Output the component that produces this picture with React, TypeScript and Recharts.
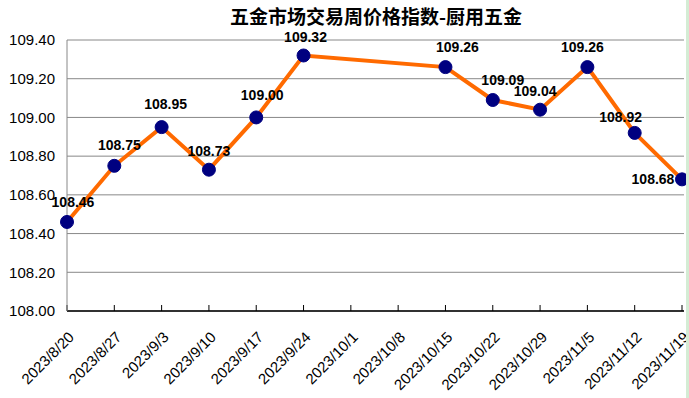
import React from "react";
import { LineChart, Line, XAxis, YAxis, CartesianGrid, LabelList } from "recharts";

const categories = [
  "2023/8/20", "2023/8/27", "2023/9/3", "2023/9/10", "2023/9/17", "2023/9/24", "2023/10/1",
  "2023/10/8", "2023/10/15", "2023/10/22", "2023/10/29", "2023/11/5", "2023/11/12", "2023/11/19",
];
const values: (number | null)[] = [
  108.46, 108.75, 108.95, 108.73, 109.0, 109.32, null,
  null, 109.26, 109.09, 109.04, 109.26, 108.92, 108.68,
];
const yTicks = [108.0, 108.2, 108.4, 108.6, 108.8, 109.0, 109.2, 109.4];
const title = "五金市场交易周价格指数-厨用五金";

const data = categories.map((c, i) => ({ name: c, value: values[i] }));

const labelShift: [number, number][] = [
  [6, -19], [5, -20], [4, -22], [0, -17], [6, -21], [2, -17], [0, 0],
  [0, 0], [12, -19], [10, -19], [-5, -17], [-5, -19], [-14, -15], [-29, 1],
];

const FONT = "'Liberation Sans', Arial, sans-serif";

const XTick = (props: any) => {
  const { x, y, payload } = props;
  const ax = x + 8;
  const ay = y + 31;
  return (
    <text
      x={ax}
      y={ay}
      textAnchor="end"
      fontSize={15}
      fontFamily={FONT}
      fill="#000"
      transform={`rotate(-45, ${ax}, ${ay})`}
    >
      {payload.value}
    </text>
  );
};

const ValueLabel = (props: any) => {
  const { x, y, value, index } = props;
  if (value == null) return null;
  const [dx, dy] = labelShift[index] || [0, -19];
  return (
    <text
      x={x + dx}
      y={y + dy}
      textAnchor="middle"
      dominantBaseline="middle"
      fontSize={14}
      fontWeight="bold"
      fontFamily={FONT}
      fill="#000"
    >
      {Number(value).toFixed(2)}
    </text>
  );
};

export default function App() {
  return (
    <div style={{ position: "absolute", left: 0, top: 0, width: 689, height: 398, background: "#fff", overflow: "hidden" }}>
      <div
        style={{
          position: "absolute",
          left: 0,
          top: 5,
          width: 752,
          textAlign: "center",
          fontFamily: "'Noto Sans CJK SC', sans-serif",
          fontSize: 19,
          fontWeight: 700,
          color: "#000",
          lineHeight: "22px",
        }}
      >
        {title}
      </div>
      <div style={{ position: "absolute", left: 686, top: 0, width: 3, height: 398, background: "#d4ecd4" }} />
      <LineChart
        width={686}
        height={398}
        data={data}
        margin={{ top: 40, right: 2, left: 0, bottom: 7 }}
      >
        <CartesianGrid vertical={false} stroke="#888" strokeWidth={1} />
        <XAxis
          dataKey="name"
          interval={0}
          height={80}
          padding={{ left: 0, right: 2 }}
          axisLine={{ stroke: "#000", strokeWidth: 1.5 }}
          tickLine={{ stroke: "#000" }}
          tickSize={-6}
          tick={<XTick />}
        />
        <YAxis
          width={67}
          domain={[108, 109.4]}
          ticks={yTicks}
          interval={0}
          tickFormatter={(v: number) => v.toFixed(2)}
          axisLine={{ stroke: "#888" }}
          tickLine={false}
          tickMargin={6}
          tick={{ fontSize: 15, fill: "#000", fontFamily: FONT }}
        />
        <Line
          type="linear"
          dataKey="value"
          stroke="#FF6A00"
          strokeWidth={4}
          connectNulls
          dot={{ r: 6.5, fill: "#000080", stroke: "#000080", strokeWidth: 1 }}
          isAnimationActive={false}
        >
          <LabelList dataKey="value" content={<ValueLabel />} />
        </Line>
      </LineChart>
    </div>
  );
}
